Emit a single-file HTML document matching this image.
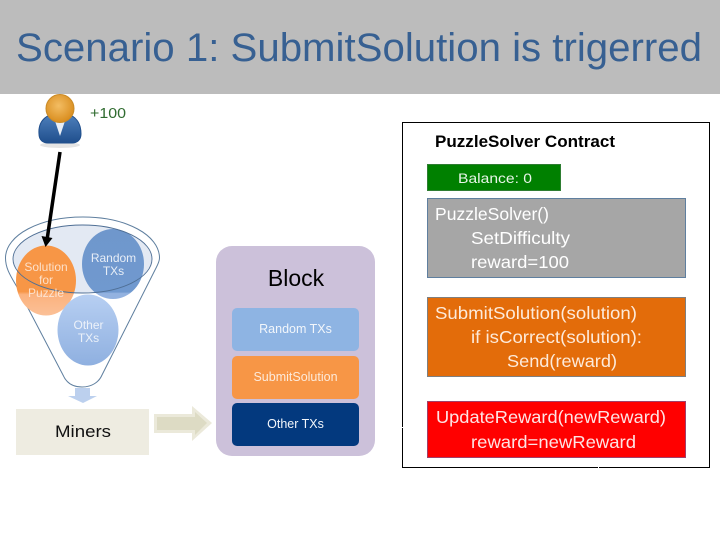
<!DOCTYPE html>
<html><head><meta charset="utf-8"><style>
html,body{margin:0;padding:0;background:#fff}
svg{display:block}
text{font-family:"Liberation Sans",sans-serif}
</style></head><body>
<svg width="720" height="540" viewBox="0 0 720 540" xmlns="http://www.w3.org/2000/svg">
<defs>
<radialGradient id="head" cx="45%" cy="40%" r="60%"><stop offset="0" stop-color="#f3bd63"/><stop offset="1" stop-color="#d98d1e"/></radialGradient>
<linearGradient id="suit" x1="0" y1="0" x2="0" y2="1"><stop offset="0" stop-color="#4f81bd"/><stop offset="1" stop-color="#1f4e8c"/></linearGradient>
<linearGradient id="c1" x1="0" y1="0" x2="0" y2="1"><stop offset="0" stop-color="#6f97cc"/><stop offset="0.9" stop-color="#7099cf"/><stop offset="0.92" stop-color="#93b2e0"/><stop offset="1" stop-color="#93b2e0"/></linearGradient>
<linearGradient id="c2" x1="0" y1="0" x2="0" y2="1"><stop offset="0" stop-color="#f79646"/><stop offset="0.66" stop-color="#f79646"/><stop offset="0.7" stop-color="#fbb27e"/><stop offset="1" stop-color="#fbc097"/></linearGradient>
<linearGradient id="c3" x1="0" y1="0" x2="0" y2="1"><stop offset="0" stop-color="#b7cff2"/><stop offset="1" stop-color="#8fb0e0"/></linearGradient>
</defs>

<rect x="0" y="0" width="720" height="94" fill="#bcbcbc"/>
<text x="16" y="61" font-size="40" fill="#376092" textLength="686" lengthAdjust="spacingAndGlyphs">Scenario 1: SubmitSolution is trigerred</text>

<!-- person -->
<ellipse cx="60" cy="145" rx="20" ry="3" fill="#e4e4e4"/>
<path d="M39 134 C38 122 45 116 53 114 L67 114 C75 116 81 122 81 134 C81 140 77 143 72 143 L48 143 C43 143 39 140 39 134Z" fill="url(#suit)" stroke="#1f4e8c"/>
<path d="M54 118 L66 118 L60 136Z" fill="#e8eef5"/>
<circle cx="60" cy="108.500" r="14" fill="url(#head)" stroke="#c98a26"/>
<text x="90" y="118" font-size="14.500" fill="#2f6b2f" textLength="36" lengthAdjust="spacingAndGlyphs">+100</text>

<!-- funnel -->
<path d="M5.500 258 C5.500 235 40 217 83 217 C126 217 159.500 235 159.500 258 C159.500 262 157 266 155 270 L102 375 C99 382 92 387 82 387 C72 387 66 382 63 375 L17 287 C10 275 5.500 268 5.500 258Z" fill="#fff" stroke="#5f7f9f" stroke-width="1"/>
<ellipse cx="82.500" cy="259" rx="69.500" ry="34" fill="#e3e9f3"/>
<ellipse cx="113" cy="264" rx="31" ry="35" fill="url(#c1)"/>
<ellipse cx="46" cy="280.500" rx="30" ry="35" fill="url(#c2)"/>
<ellipse cx="88" cy="330" rx="30.500" ry="35.500" fill="url(#c3)"/>
<ellipse cx="82.500" cy="259" rx="69.500" ry="34" fill="none" stroke="#4f6f95" stroke-width="0.900"/>
<g font-size="12" fill="#f4f7fb" text-anchor="middle" opacity="0.9">
<text x="46" y="271" fill="#fde9d9">Solution</text>
<text x="46" y="284" fill="#fde9d9">for</text>
<text x="46" y="297" fill="#fde9d9">Puzzle</text>
<text x="113.500" y="262">Random</text>
<text x="113.500" y="275">TXs</text>
<text x="88.500" y="329">Other</text>
<text x="88.500" y="342">TXs</text>
</g>

<!-- black arrow -->
<line x1="60" y1="152" x2="47" y2="240" stroke="#000" stroke-width="3.500"/>
<polygon points="41.500,236 52.500,238 45.500,247" fill="#000"/>

<!-- small down arrow -->
<polygon points="75,388 90,388 90,396 97,396 83,403 68,396 75,396" fill="#bcd0ee"/>

<!-- miners -->
<rect x="16" y="409" width="133" height="46" fill="#eeece1"/>
<text x="83" y="437" font-size="16.500" fill="#111" text-anchor="middle" textLength="56" lengthAdjust="spacingAndGlyphs">Miners</text>

<!-- right arrow -->
<polygon points="154,414 192,414 192,406 212,423 192,441 192,433 154,433" fill="#ebe9da"/>
<polygon points="157,417 195,417 195,412 207,423 195,435 195,430 157,430" fill="#dddbc4"/>

<!-- block -->
<rect x="216" y="246" width="159" height="210" rx="16" fill="#ccc1da"/>
<text x="296" y="286" font-size="23" fill="#000" text-anchor="middle">Block</text>
<rect x="232" y="308" width="127" height="43" rx="5" fill="#8eb4e3"/>
<text x="295.500" y="333" font-size="12.500" fill="#f2f6fb" text-anchor="middle">Random TXs</text>
<rect x="232" y="356" width="127" height="43" rx="5" fill="#f79646"/>
<text x="295.500" y="381" font-size="12.500" fill="#fdeada" text-anchor="middle">SubmitSolution</text>
<rect x="232" y="403" width="127" height="43" rx="5" fill="#03397e"/>
<text x="295.500" y="428" font-size="12.500" fill="#f2f6fb" text-anchor="middle">Other TXs</text>

<!-- contract -->
<rect x="402.500" y="122.500" width="307" height="345" fill="#fff" stroke="#000" stroke-width="1"/>
<rect x="402" y="427" width="2" height="1" fill="#fff"/>
<rect x="598" y="467" width="1" height="4" fill="#fff"/>
<text x="435" y="147" font-size="16.500" font-weight="bold" fill="#000" textLength="180" lengthAdjust="spacingAndGlyphs">PuzzleSolver Contract</text>

<rect x="427.500" y="164.500" width="133" height="26" fill="#008000" stroke="#2e7d32"/>
<text x="458" y="183" font-size="14" fill="#e8f5e8" textLength="74" lengthAdjust="spacingAndGlyphs">Balance: 0</text>

<rect x="427.500" y="198.500" width="258" height="79" fill="#a6a6a6" stroke="#5f7f9f"/>
<g font-size="17.500" fill="#fff">
<text x="435" y="220" textLength="114" lengthAdjust="spacingAndGlyphs">PuzzleSolver()</text>
<text x="471" y="244" textLength="99" lengthAdjust="spacingAndGlyphs">SetDifficulty</text>
<text x="471" y="268" textLength="98" lengthAdjust="spacingAndGlyphs">reward=100</text>
</g>

<rect x="427.500" y="297.500" width="258" height="79" fill="#e36c0a" stroke="#7f7f7f"/>
<g font-size="17.500" fill="#fdeada">
<text x="435" y="319" textLength="202" lengthAdjust="spacingAndGlyphs">SubmitSolution(solution)</text>
<text x="471" y="343" textLength="171" lengthAdjust="spacingAndGlyphs">if isCorrect(solution):</text>
<text x="507" y="367" textLength="110" lengthAdjust="spacingAndGlyphs">Send(reward)</text>
</g>

<rect x="427.500" y="401.500" width="258" height="56" fill="#ff0000" stroke="#a0406a"/>
<g font-size="17.500" fill="#fde4e4">
<text x="436" y="423" textLength="230" lengthAdjust="spacingAndGlyphs">UpdateReward(newReward)</text>
<text x="471" y="448" textLength="165" lengthAdjust="spacingAndGlyphs">reward=newReward</text>
</g>
</svg>
</body></html>
